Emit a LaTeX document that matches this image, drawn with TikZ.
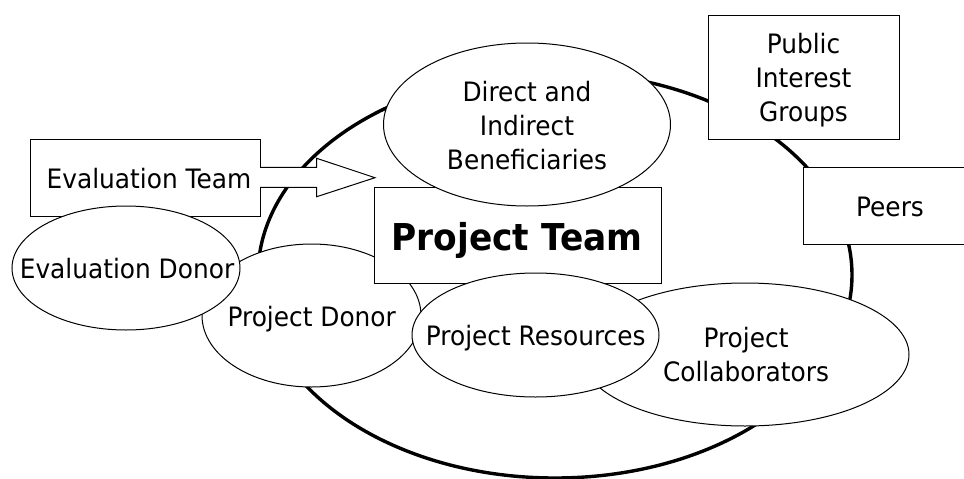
\documentclass[tikz,border=0pt]{standalone}
\usepackage{fontspec}
\setmainfont{DejaVu Sans}[FakeStretch=0.93]
\usetikzlibrary{shapes.geometric}
\begin{document}
\begin{tikzpicture}[x=1pt,y=-1pt,
  thinline/.style={draw=black, line width=1pt, fill=white},
  oval/.style={thinline, ellipse, inner sep=0pt},
  boxnode/.style={thinline, rectangle, inner sep=0pt},
  lbl/.style={align=center, inner sep=0pt, font=\fontsize{26.7}{34}\selectfont},
  biglbl/.style={inner sep=0pt, font=\bfseries\fontsize{37}{40}\selectfont},
]
\useasboundingbox (0,0) rectangle (964,479);
\clip (0,0) rectangle (964,479);

% outer circle of the project
\node[ellipse, draw=black, line width=3.4pt, inner sep=0pt,
      minimum width=594pt, minimum height=406pt] (outer) at (555,275) {};

% Public Interest Groups
\node[boxnode, minimum width=191pt, minimum height=124pt] (pub) at (803.5,77) {};
\node[lbl] (publbl) at (803.5,80) {Public\\Interest\\Groups};

% Peers
\node[boxnode, minimum width=174pt, minimum height=77pt] (peers) at (890,205.8) {};
\node[lbl, anchor=base] (peerslbl) at (890,216.7) {Peers};

% Evaluation Team box with arrow
\node[boxnode, minimum width=229.3pt, minimum height=76.7pt] (evteam) at (145.35,177.65) {};
\coordinate (a1) at (260,167.3);
\coordinate (a2) at (316.7,167.3);
\coordinate (a3) at (316.7,158.3);
\coordinate (a4) at (375,177.7);
\coordinate (a5) at (316.7,196.7);
\coordinate (a6) at (316.7,187.3);
\coordinate (a7) at (260,187.3);
\fill[white] (257.5,168) rectangle (262,186.6);
\draw[thinline] (a1) -- (a2) -- (a3) -- (a4) -- (a5) -- (a6) -- (a7);
\node[lbl, anchor=base] (evteamlbl) at (149,188.3) {Evaluation Team};

% Project Donor
\node[oval, minimum width=219pt, minimum height=143pt] (pdonor) at (311.5,315.5) {};
\node[lbl, anchor=base] (pdonorlbl) at (311.7,326.7) {Project Donor};

% Evaluation Donor
\node[oval, minimum width=228pt, minimum height=124pt] (edonor) at (126,268) {};
\node[lbl, anchor=base] (edonorlbl) at (127,278.3) {Evaluation Donor};

% Project Team
\node[boxnode, minimum width=287pt, minimum height=96pt] (pteam) at (517.5,235) {};
\node[biglbl, anchor=base] (pteamlbl) at (517,250) {Project Team};

% Direct and Indirect Beneficiaries
\node[oval, minimum width=287pt, minimum height=163pt] (benef) at (527,124.5) {};
\node[lbl] (beneflbl) at (527,125.7) {Direct and\\Indirect\\Beneficiaries};

% Project Collaborators
\node[oval, minimum width=328pt, minimum height=143pt] (collab) at (745,354.5) {};
\node[lbl] (collablbl) at (746,354.7) {Project\\Collaborators};

% Project Resources
\node[oval, minimum width=247pt, minimum height=124pt] (res) at (535.5,335) {};
\node[lbl, anchor=base] (reslbl) at (535.7,345) {Project Resources};
\end{tikzpicture}
\end{document}
